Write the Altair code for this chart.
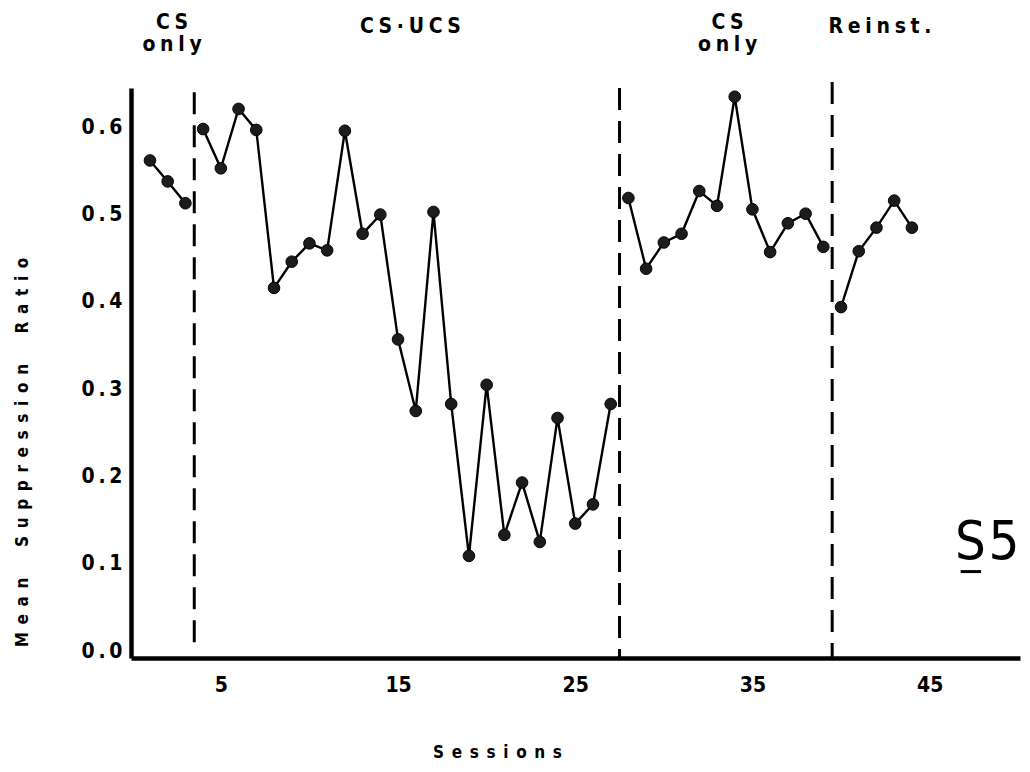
import altair as alt
import pandas as pd

# ---- data ----
sessions = list(range(1, 45))
ratio = [0.562, 0.538, 0.513,
         0.598, 0.553, 0.621, 0.597, 0.416, 0.446, 0.467, 0.459, 0.596, 0.478,
         0.500, 0.357, 0.275, 0.503, 0.283, 0.109, 0.305, 0.133, 0.193, 0.125,
         0.267, 0.146, 0.168, 0.283,
         0.519, 0.438, 0.468, 0.478, 0.527, 0.510, 0.635, 0.506, 0.457, 0.490,
         0.501, 0.463,
         0.394, 0.458, 0.485, 0.516, 0.485]
phase = ["CS only A"] * 3 + ["CS-UCS"] * 24 + ["CS only B"] * 12 + ["Reinst"] * 5

boundary_x = [3.5, 27.5, 39.5]
boundary_top = [0.640, 0.645, 0.652]
boundary_bottom = [0.007, -0.008, -0.008]

phase_label_text = ["CS", "only", "CS·UCS", "CS", "only", "Reinst."]
phase_label_x = [2.25, 2.25, 15.7, 33.6, 33.6, 42.2]
phase_label_row = [-65, -43, -61, -65, -43, -61]

x_ticks = [5, 15, 25, 35, 45]
y_ticks = [0.0, 0.1, 0.2, 0.3, 0.4, 0.5, 0.6]

FONT = "Liberation Sans Narrow, DejaVu Sans Condensed, Liberation Sans, sans-serif"
THIN_FONT = "Liberation Sans Narrow, DejaVu Sans Condensed, Liberation Sans, sans-serif"


def spaced(s, sep="\u2005"):
    return sep.join(s)


def spaced_words(s, letter_sep="\u2002", word_sep="\u2003\u2003"):
    return word_sep.join(letter_sep.join(w) for w in s.split(" "))


df = pd.DataFrame({"session": sessions, "ratio": ratio, "phase": phase})
bounds = pd.DataFrame({"x": boundary_x, "top": boundary_top, "bottom": boundary_bottom})
labels = pd.DataFrame({"label": [spaced(t) for t in phase_label_text],
                       "x": phase_label_x, "row": phase_label_row})
subject = pd.DataFrame({"x": [47.3, 49.2], "y": [0.124, 0.124], "t": ["S", "5"]})
subject_line = pd.DataFrame({"x": [46.75], "x2": [47.9], "y": [0.091]})

x_scale = alt.Scale(domain=[-0.07, 50.1], nice=False, zero=False)
y_scale = alt.Scale(domain=[-0.008, 0.645], nice=False, zero=False)

x_enc = alt.X("session:Q", scale=x_scale,
              axis=alt.Axis(values=x_ticks, labelPadding=16, tickSize=0,
                            title=spaced_words("Sessions"),
                            titleX=366, titleY=94, titleBaseline="middle",
                            titleAlign="center", titleFontSize=17))
y_enc = alt.Y("ratio:Q", scale=y_scale,
              axis=alt.Axis(values=y_ticks, labelPadding=9, tickSize=0,
                            labelExpr="join(split(format(datum.value, '.1f'), ''), '\u2009')",
                            title=spaced_words("Mean Suppression Ratio"),
                            titleX=-109, titleY=364, titleAngle=-90,
                            titleBaseline="middle", titleAlign="center",
                            titleFontSize=17))

base = alt.Chart(df)
line = base.mark_line(color="black", strokeWidth=2.4).encode(
    x=x_enc, y=y_enc, detail="phase:N", order="session:Q")
points = base.mark_point(filled=True, shape="circle", size=135, color="#1c1c1c",
                         opacity=1, stroke="black", strokeWidth=1).encode(
    x=alt.X("session:Q", scale=x_scale), y=alt.Y("ratio:Q", scale=y_scale))

rules = alt.Chart(bounds).mark_rule(color="black", strokeWidth=3,
                                    strokeDash=[22, 11]).encode(
    x=alt.X("x:Q", scale=x_scale), y=alt.Y("top:Q", scale=y_scale), y2="bottom:Q")

top_text = alt.Chart(labels).mark_text(font=FONT, fontSize=21, fontWeight="bold",
                                       color="black", baseline="middle",
                                       align="center").encode(
    x=alt.X("x:Q", scale=x_scale), y=alt.Y("row:Q", scale=None),
    text="label:N")

subject_text = alt.Chart(subject).mark_text(font=THIN_FONT, fontSize=54,
                                            fontWeight="normal", color="black",
                                            baseline="middle", align="center").encode(
    x=alt.X("x:Q", scale=x_scale), y=alt.Y("y:Q", scale=y_scale), text="t:N")
subject_under = alt.Chart(subject_line).mark_rule(color="black", strokeWidth=3).encode(
    x=alt.X("x:Q", scale=x_scale), x2="x2:Q", y=alt.Y("y:Q", scale=y_scale))

chart = alt.layer(rules, line, points, top_text, subject_text, subject_under).properties(
    width=889, height=570,
    autosize=alt.AutoSizeParams(type="none"),
    padding={"left": 123, "top": 80, "right": 2, "bottom": 106},
).configure_view(stroke=None).configure_axis(
    domainColor="black", domainWidth=4.5, grid=False, ticks=False,
    labelFont=FONT, labelFontSize=21, labelFontWeight="bold", labelColor="black",
    titleFont=FONT, titleFontWeight="bold", titleColor="black",
)

chart.save("out.html", embed_options={"renderer": "svg", "actions": False})
